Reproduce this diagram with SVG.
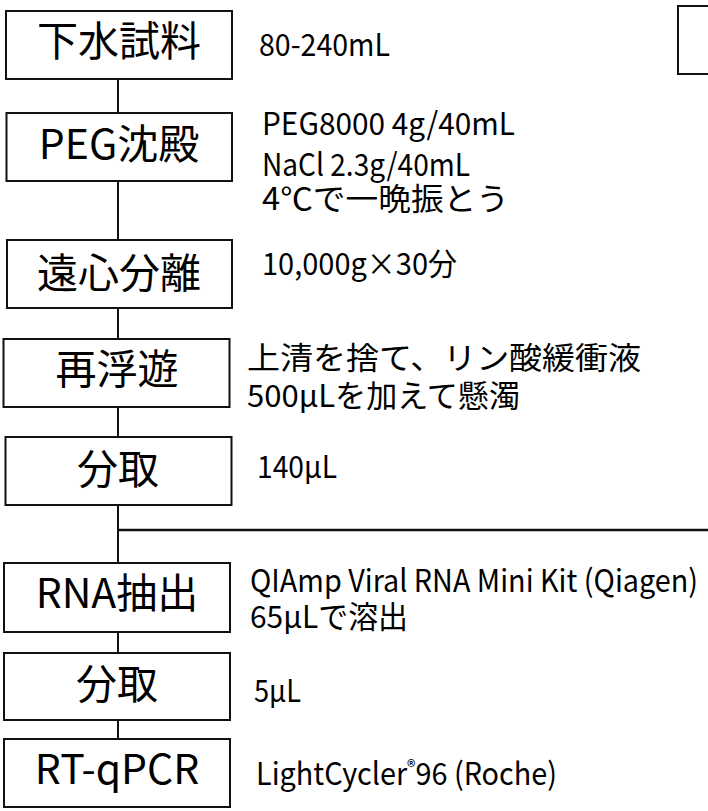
<svg xmlns="http://www.w3.org/2000/svg" width="708" height="811" viewBox="0 0 708 811">
<style>
.box{fill:#fff;stroke:#111;stroke-width:2}
.ln{fill:none;stroke:#111;stroke-width:2}
.hl{fill:none;stroke:#111;stroke-width:2.5}
.t{font-family:"Noto Sans CJK JP","Noto Sans",sans-serif;font-size:41px;fill:#000;text-anchor:middle}
.s{font-family:"Noto Sans CJK JP","Noto Sans",sans-serif;font-size:31px;fill:#000}
</style>
<rect width="708" height="811" fill="#fff"/>
<g id="connectors">
<line class="ln" x1="118" y1="79" x2="118" y2="113"/>
<line class="ln" x1="118" y1="181" x2="118" y2="240"/>
<line class="ln" x1="118" y1="308" x2="118" y2="339"/>
<line class="ln" x1="118" y1="407" x2="118" y2="437"/>
<line class="ln" x1="118" y1="505" x2="118" y2="563"/>
<line class="hl" x1="118" y1="530" x2="708" y2="530"/>
<line class="ln" x1="118" y1="632" x2="118" y2="653"/>
<line class="ln" x1="118" y1="720" x2="118" y2="739"/>
</g>
<g id="corner-box">
<rect class="box" x="678" y="6" width="40" height="68"/>
</g>
<g id="n1">
<rect class="box" x="6" y="11" width="226" height="68"/>
<text class="t" x="119" y="56">下水試料</text>
<text class="s" x="259" y="56" textLength="131" lengthAdjust="spacingAndGlyphs">80-240mL</text>
</g>
<g id="n2">
<rect class="box" x="6.5" y="113" width="225.5" height="68"/>
<text class="t" x="119" y="159">PEG沈殿</text>
<text class="s" x="262" y="135" textLength="253" lengthAdjust="spacingAndGlyphs">PEG8000 4g/40mL</text>
<text class="s" x="262" y="176" textLength="208" lengthAdjust="spacingAndGlyphs">NaCl 2.3g/40mL</text>
<text class="s" x="262" y="210" textLength="247" lengthAdjust="spacingAndGlyphs">4℃で一晩振とう</text>
</g>
<g id="n3">
<rect class="box" x="7" y="240" width="225" height="68"/>
<text class="t" x="119" y="288">遠心分離</text>
<text class="s" x="262" y="275" textLength="195" lengthAdjust="spacingAndGlyphs">10,000g×30分</text>
</g>
<g id="n4">
<rect class="box" x="3.5" y="339" width="226" height="68"/>
<text class="t" x="117" y="384">再浮遊</text>
<text class="s" x="247" y="369" textLength="394" lengthAdjust="spacingAndGlyphs">上清を捨て、リン酸緩衝液</text>
<text class="s" x="247" y="407" textLength="273" lengthAdjust="spacingAndGlyphs">500μLを加えて懸濁</text>
</g>
<g id="n5">
<rect class="box" x="5.5" y="437" width="226" height="68"/>
<text class="t" x="118" y="484">分取</text>
<text class="s" x="257" y="478" textLength="80" lengthAdjust="spacingAndGlyphs">140μL</text>
</g>
<g id="n6">
<rect class="box" x="4" y="563" width="226" height="69"/>
<text class="t" x="117" y="608">RNA抽出</text>
<text class="s" x="250" y="592" textLength="448" lengthAdjust="spacingAndGlyphs">QIAmp Viral RNA Mini Kit (Qiagen)</text>
<text class="s" x="250" y="628" textLength="158" lengthAdjust="spacingAndGlyphs">65μLで溶出</text>
</g>
<g id="n7">
<rect class="box" x="4" y="653" width="226" height="67"/>
<text class="t" x="117" y="699">分取</text>
<text class="s" x="254" y="702" textLength="47" lengthAdjust="spacingAndGlyphs">5μL</text>
</g>
<g id="n8">
<rect class="box" x="4" y="739" width="226" height="68"/>
<text class="t" x="117" y="784">RT-qPCR</text>
<text class="s" x="256" y="785" textLength="301" lengthAdjust="spacingAndGlyphs">LightCycler<tspan font-size="19" dy="-11">®</tspan><tspan dy="11">96 (Roche)</tspan></text>
</g>
</svg>
